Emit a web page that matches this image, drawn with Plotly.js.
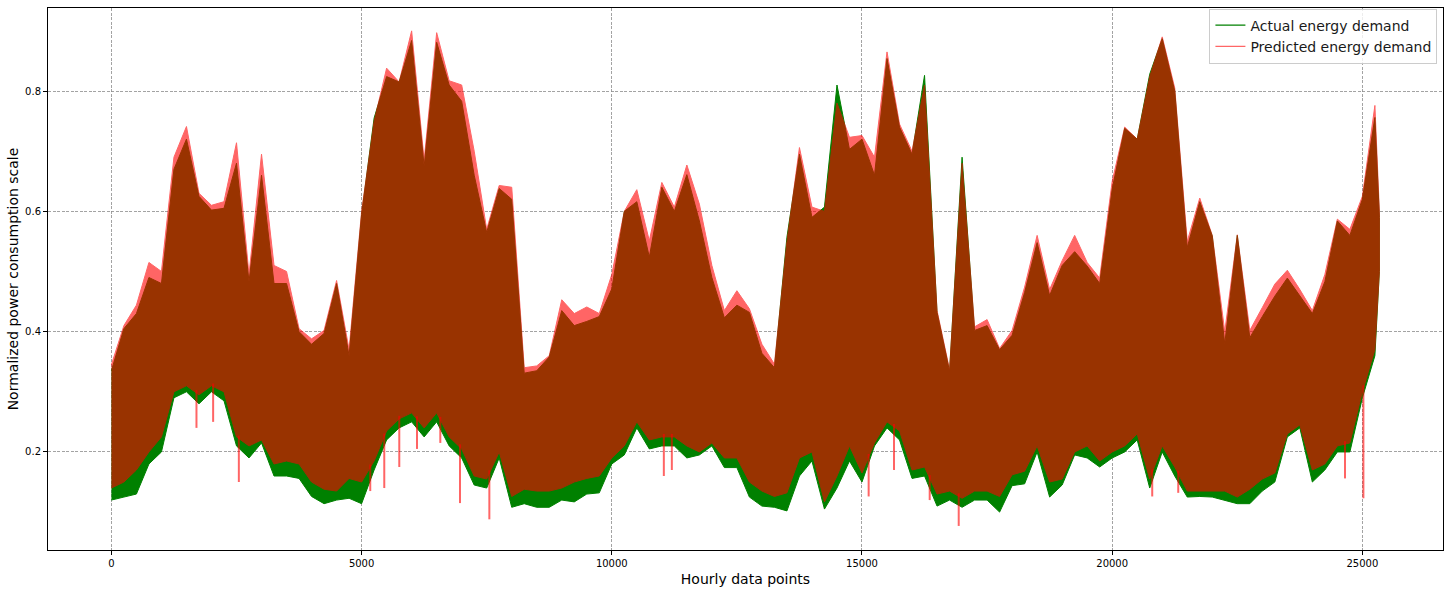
<!DOCTYPE html>
<html>
<head>
<meta charset="utf-8">
<script src="https://cdn.plot.ly/plotly-3.0.1.min.js"></script>
<style>html,body{margin:0;padding:0;background:#fff;}#chart{width:1450px;height:593px;}</style>
</head>
<body>
<div id="chart"></div>
<script>
// Envelope of the hourly series, read per 250-hour window (hour index of window centre)
const hours = [0,250,500,750,1000,1250,1500,1750,2000,2250,2500,2750,3000,3250,3500,3750,4000,4250,4500,4750,
  5000,5250,5500,5750,6000,6250,6500,6750,7000,7250,7500,7750,8000,8250,8500,8750,9000,9250,9500,9750,
  10000,10250,10500,10750,11000,11250,11500,11750,12000,12250,12500,12750,13000,13250,13500,13750,14000,14250,14500,14750,
  15000,15250,15500,15750,16000,16250,16500,16750,17000,17250,17500,17750,18000,18250,18500,18750,19000,19250,19500,19750,
  20000,20250,20500,20750,21000,21250,21500,21750,22000,22250,22500,22750,23000,23250,23500,23750,24000,24250,24500,24750,
  25000,25250,25340];

// Actual energy demand: window maximum / minimum
const actualHigh = [0.335,0.405,0.43,0.49,0.48,0.67,0.72,0.625,0.602,0.605,0.68,0.483,0.66,0.48,0.48,0.4,0.379,0.397,0.48,0.36,
  0.595,0.755,0.824,0.815,0.884,0.675,0.881,0.81,0.783,0.66,0.565,0.638,0.62,0.331,0.335,0.358,0.435,0.41,0.417,0.425,
  0.471,0.6,0.616,0.524,0.64,0.6,0.661,0.584,0.49,0.423,0.444,0.432,0.364,0.34,0.557,0.695,0.59,0.607,0.81,0.703,
  0.72,0.66,0.854,0.74,0.695,0.826,0.432,0.334,0.69,0.402,0.41,0.37,0.394,0.465,0.548,0.46,0.51,0.533,0.509,0.48,
  0.637,0.738,0.72,0.828,0.887,0.8,0.54,0.616,0.559,0.38,0.56,0.39,0.425,0.459,0.489,0.46,0.43,0.483,0.584,0.56,
  0.62,0.756,0.59];
const actualLow = [0.12,0.125,0.13,0.18,0.2,0.29,0.3,0.28,0.3,0.285,0.21,0.19,0.215,0.16,0.16,0.156,0.126,0.114,0.12,0.123,
  0.114,0.17,0.22,0.24,0.25,0.225,0.25,0.21,0.19,0.145,0.14,0.19,0.108,0.114,0.108,0.108,0.12,0.117,0.13,0.132,
  0.18,0.195,0.24,0.205,0.21,0.21,0.19,0.195,0.21,0.174,0.174,0.125,0.11,0.108,0.102,0.16,0.185,0.105,0.14,0.185,
  0.15,0.21,0.24,0.22,0.156,0.16,0.11,0.12,0.108,0.12,0.12,0.1,0.144,0.147,0.2,0.125,0.145,0.195,0.19,0.175,
  0.19,0.2,0.22,0.14,0.2,0.16,0.125,0.126,0.125,0.12,0.114,0.114,0.135,0.15,0.225,0.24,0.15,0.17,0.2,0.2,
  0.29,0.36,0.5];

// Predicted energy demand: window maximum / bulk minimum
const predictedHigh = [0.345,0.41,0.444,0.515,0.5,0.69,0.741,0.63,0.61,0.616,0.714,0.495,0.695,0.51,0.5,0.405,0.388,0.402,0.485,0.37,
  0.6,0.75,0.838,0.815,0.9,0.685,0.897,0.817,0.81,0.7,0.57,0.643,0.64,0.34,0.343,0.36,0.453,0.43,0.441,0.43,
  0.495,0.6,0.636,0.551,0.648,0.607,0.677,0.612,0.51,0.435,0.468,0.438,0.379,0.346,0.55,0.706,0.607,0.6,0.78,0.723,
  0.726,0.69,0.865,0.745,0.7,0.81,0.435,0.337,0.68,0.408,0.42,0.372,0.402,0.474,0.56,0.47,0.518,0.56,0.515,0.489,
  0.65,0.74,0.72,0.824,0.89,0.805,0.55,0.622,0.56,0.4,0.561,0.402,0.44,0.479,0.502,0.47,0.435,0.495,0.587,0.57,
  0.625,0.776,0.6];
const predictedLow = [0.14,0.15,0.17,0.2,0.225,0.3,0.31,0.295,0.31,0.3,0.225,0.21,0.22,0.18,0.185,0.18,0.15,0.138,0.135,0.156,
  0.15,0.185,0.235,0.255,0.265,0.24,0.265,0.225,0.205,0.16,0.155,0.2,0.126,0.138,0.135,0.135,0.14,0.15,0.156,0.16,
  0.19,0.21,0.25,0.22,0.225,0.225,0.21,0.2,0.215,0.19,0.19,0.15,0.135,0.126,0.132,0.19,0.2,0.117,0.16,0.21,
  0.165,0.215,0.25,0.235,0.17,0.175,0.13,0.135,0.123,0.135,0.135,0.126,0.162,0.168,0.21,0.15,0.155,0.2,0.21,0.185,
  0.2,0.21,0.23,0.155,0.21,0.175,0.135,0.135,0.135,0.135,0.125,0.138,0.155,0.165,0.23,0.245,0.17,0.18,0.21,0.215,
  0.3,0.37,0.5];

// Isolated downward spikes of the prediction (hour, lowest value)
const predictedDipHours = [1700,2033,2547,5173,5453,5753,6107,6573,6967,7553,11040,11200,15133,15640,16353,16933,20800,21320,24653,25020];
const predictedDipValues = [0.24,0.25,0.15,0.135,0.14,0.175,0.205,0.215,0.115,0.088,0.16,0.17,0.126,0.17,0.12,0.077,0.126,0.132,0.156,0.123];

const seriesNames = ['Actual energy demand', 'Predicted energy demand'];
const xTicks = [0, 5000, 10000, 15000, 20000, 25000];
const yTicks = [0.2, 0.4, 0.6, 0.8];

function band(high, low) {
  const x = hours.concat(hours.slice().reverse());
  const y = high.concat(low.slice().reverse());
  return {x, y};
}
function lowAt(h) {
  for (let i = 0; i < hours.length - 1; i++) {
    if (h >= hours[i] && h <= hours[i + 1]) {
      const t = (h - hours[i]) / (hours[i + 1] - hours[i]);
      return predictedLow[i] + t * (predictedLow[i + 1] - predictedLow[i]);
    }
  }
  return predictedLow[predictedLow.length - 1];
}

const a = band(actualHigh, actualLow);
const p = band(predictedHigh, predictedLow);
const dipX = [], dipY = [];
predictedDipHours.forEach((h, i) => {
  dipX.push(h, h, null);
  dipY.push(predictedDipValues[i], lowAt(h) + 0.005, null);
});

const traces = [
  {x: a.x, y: a.y, type: 'scatter', mode: 'lines', fill: 'toself', fillcolor: 'green',
   line: {color: 'green', width: 1}, showlegend: false, hoverinfo: 'skip'},
  {x: p.x, y: p.y, type: 'scatter', mode: 'lines', fill: 'toself', fillcolor: 'red',
   line: {color: 'red', width: 1}, opacity: 0.6, showlegend: false, hoverinfo: 'skip'},
  {x: dipX, y: dipY, type: 'scatter', mode: 'lines', line: {color: 'red', width: 2},
   opacity: 0.6, showlegend: false, hoverinfo: 'skip', connectgaps: false},
  {x: [null], y: [null], type: 'scatter', mode: 'lines', name: seriesNames[0],
   line: {color: 'green', width: 1.2}},
  {x: [null], y: [null], type: 'scatter', mode: 'lines', name: seriesNames[1],
   line: {color: 'red', width: 1.2}, opacity: 0.6}
];

const font = 'DejaVu Sans, sans-serif';
const layout = {
  width: 1450, height: 593,
  margin: {l: 48, r: 7, t: 8, b: 43},
  paper_bgcolor: '#fff', plot_bgcolor: '#fff',
  font: {family: font, color: '#000', size: 10},
  showlegend: true,
  legend: {x: 0.996, y: 0.999, xanchor: 'right', yanchor: 'top',
    bgcolor: 'rgba(255,255,255,0.8)', bordercolor: '#cccccc', borderwidth: 1,
    font: {family: font, size: 14, color: '#1a1a1a'}, tracegroupgap: 0},
  xaxis: {
    range: [-1267, 26611], tickvals: xTicks, ticktext: xTicks.map(String),
    showline: true, mirror: true, linecolor: '#000', linewidth: 1,
    ticks: 'outside', ticklen: 4, tickcolor: '#000',
    showgrid: true, gridcolor: '#8c8c8c', griddash: '3px,1.5px', gridwidth: 0.8,
    zeroline: false,
    title: {text: 'Hourly data points', font: {family: font, size: 14, color: '#000'}, standoff: 6},
    tickfont: {family: font, size: 10, color: '#000'}
  },
  yaxis: {
    range: [0.037, 0.938], tickvals: yTicks, ticktext: yTicks.map(v => v.toFixed(1)),
    showline: true, mirror: true, linecolor: '#000', linewidth: 1,
    ticks: 'outside', ticklen: 4, tickcolor: '#000',
    showgrid: true, gridcolor: '#8c8c8c', griddash: '3px,1.5px', gridwidth: 0.8,
    zeroline: false,
    title: {text: 'Normalized power consumption scale', font: {family: font, size: 14, color: '#000'}, standoff: 3},
    tickfont: {family: font, size: 10, color: '#000'}
  }
};

Plotly.newPlot('chart', traces, layout, {displayModeBar: false, staticPlot: true});
</script>
</body>
</html>
